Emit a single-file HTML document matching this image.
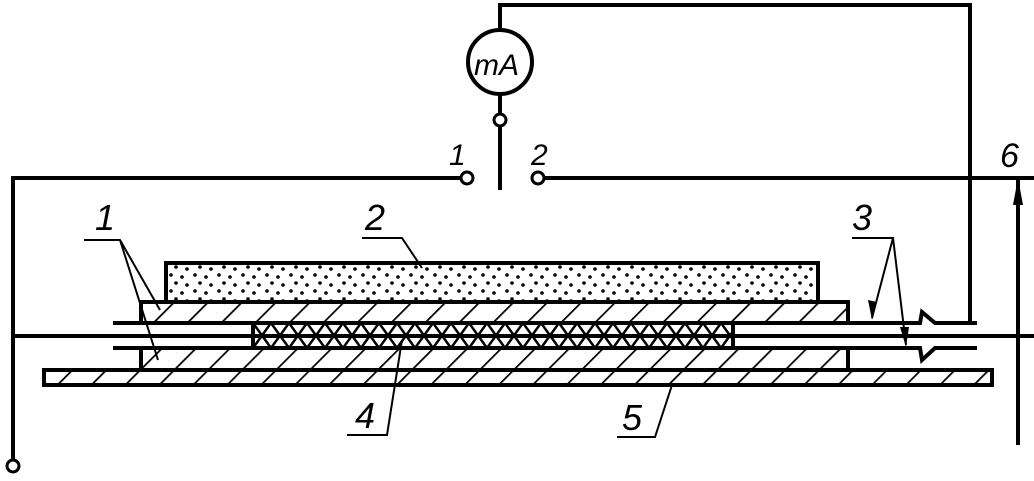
<!DOCTYPE html>
<html><head><meta charset="utf-8"><style>body{margin:0;background:#fff}svg{display:block}</style></head><body>
<svg width="1034" height="481" viewBox="0 0 1034 481" xmlns="http://www.w3.org/2000/svg">
<defs>
<pattern id="h" patternUnits="userSpaceOnUse" width="24" height="24" patternTransform="rotate(45)"><rect width="24" height="24" fill="#fff"/><line x1="0" y1="0" x2="0" y2="24" stroke="#000" stroke-width="3.5"/></pattern>
<pattern id="x" patternUnits="userSpaceOnUse" width="18" height="25" x="253" y="323"><rect width="18" height="25" fill="#fff"/><path d="M0 0L18 25M18 0L0 25" stroke="#000" stroke-width="2.5"/></pattern>
<pattern id="d" patternUnits="userSpaceOnUse" width="24" height="16"><rect width="24" height="16" fill="#fff"/><circle cx="3" cy="3" r="1.8"/><circle cx="14" cy="5" r="1.8"/><circle cx="8" cy="11" r="1.8"/><circle cx="19" cy="13" r="1.8"/></pattern>
</defs>
<g stroke="#000" stroke-width="4" fill="none">
<polyline points="500,30 500,5 970,5 970,323"/>
<circle cx="500" cy="62" r="32" stroke-width="4"/>
<line x1="500" y1="94" x2="500" y2="114"/>
<circle cx="500" cy="120" r="6" stroke-width="3"/>
<line x1="500" y1="126" x2="500" y2="190"/>
<polyline points="13,460 13,178 461,178"/>
<circle cx="467" cy="178" r="6" stroke-width="3"/>
<circle cx="538" cy="178" r="6" stroke-width="3"/>
<line x1="544" y1="178" x2="1034" y2="178"/>
<circle cx="13" cy="466" r="6" stroke-width="3"/>
<line x1="1018" y1="178" x2="1018" y2="445"/>
<rect x="166" y="263" width="652" height="39" fill="url(#d)"/>
<rect x="141" y="302" width="707" height="21" fill="url(#h)"/>
<rect x="141" y="348" width="707" height="22" fill="url(#h)"/>
<rect x="253" y="323" width="480" height="25" fill="url(#x)"/>
<rect x="44" y="370" width="948" height="15" fill="url(#h)"/>
<polyline points="113,323 920,323 922,312 935,323 977,323"/>
<polyline points="113,348 920,348 922,360 935,348 977,348"/>
<line x1="14" y1="336" x2="1034" y2="336"/>
</g>
<g stroke="#000" stroke-width="2" fill="none">
<polyline points="84,240 120,240 160,310"/><line x1="120" y1="240" x2="158" y2="360"/>
<polyline points="362,238 402,238 422,268"/>
<polyline points="852,238 893,238 872,318"/><line x1="893" y1="238" x2="906" y2="345"/>
<polyline points="347,435 387,435 402,340"/>
<polyline points="617,437 655,437 672,385"/>
</g>
<polygon points="1018,178 1013,205 1023,205" fill="#000"/>
<polygon points="872,320 868,300 877,302" fill="#000"/>
<polygon points="906,347 900,327 909,327" fill="#000"/>
<g font-family="Liberation Sans, sans-serif" font-style="italic" fill="#000">
<text x="474" y="75" font-size="30">mA</text>
<text x="449" y="165" font-size="30">1</text>
<text x="531" y="165" font-size="30">2</text>
<text x="1000" y="167" font-size="34">6</text>
<text x="95" y="230" font-size="36">1</text>
<text x="365" y="230" font-size="36">2</text>
<text x="852" y="230" font-size="36">3</text>
<text x="355" y="428" font-size="36">4</text>
<text x="622" y="430" font-size="36">5</text>
</g>
</svg>
</body></html>
